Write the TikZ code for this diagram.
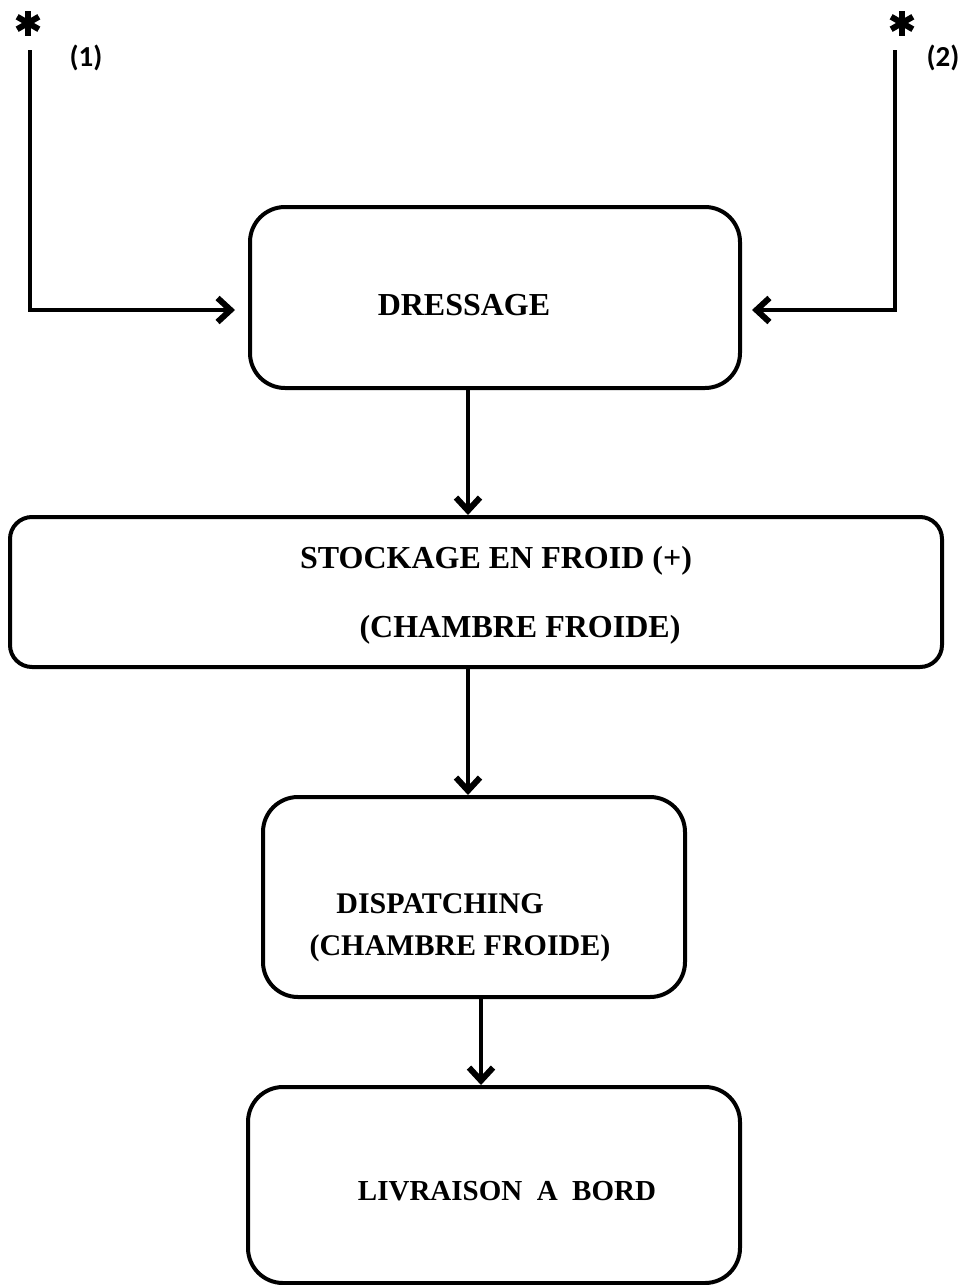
\documentclass[tikz,border=0pt]{standalone}
\usepackage{fontspec}
\setmainfont{Liberation Serif}
\newfontfamily\labelfont{Carlito}
\usetikzlibrary{arrows.meta,calc}
\begin{document}
\begin{tikzpicture}[x=1pt,y=-1pt,
  box/.style={draw,line width=4pt,inner sep=0pt,rounded corners=#1},
  box/.default=35pt,
  txt/.style={inner sep=0pt,anchor=base,font=\bfseries\fontsize{32}{38}\selectfont},
  flow/.style={line width=4pt,-{Straight Barb[length=13pt,width=24pt,line width=6pt]}},
  tag/.style={inner sep=0pt,anchor=base,font=\labelfont\bfseries\fontsize{29}{34}\selectfont},
  spoke/.style={line width=6pt}]
\useasboundingbox (0,0) rectangle (967,1285);

% process boxes
\node[box,minimum width=490pt,minimum height=181pt] (dress) at (495,297.5) {};
\node[box=22pt,minimum width=932pt,minimum height=150pt] (stock) at (476,592) {};
\node[box,minimum width=422pt,minimum height=200pt] (disp) at (474,897) {};
\node[box,minimum width=492pt,minimum height=196pt] (livr) at (494,1185) {};

% box texts
\node[txt] (tdress) at (464,315) {DRESSAGE};
\node[txt] (tstock1) at (496,568) {STOCKAGE EN FROID (+)};
\node[txt] (tstock2) at (520,637) {(CHAMBRE FROIDE)};
\node[txt,font=\bfseries\fontsize{30}{36}\selectfont] (tdisp1) at (440,913) {DISPATCHING};
\node[txt,font=\bfseries\fontsize{30}{36}\selectfont] (tdisp2) at (460,955) {(CHAMBRE FROIDE)};
\node[txt,font=\bfseries\fontsize{29}{34}\selectfont] (tlivr) at (507,1200) {LIVRAISON\hspace{0.5em}A\hspace{0.5em}BORD};

% input markers: heavy asterisks with their numbers
\coordinate (star1) at (28,23);
\coordinate (star2) at (902,23);
\foreach \c in {star1,star2}
  \foreach \a in {90,150,210}
    \draw[spoke] ($(\c)+(\a:12.5)$) -- ($(\c)+(\a+180:12.5)$);
\node[tag] (lab1) at (86,66) {(1)};
\node[tag] (lab2) at (943,66) {(2)};
\coordinate (s1) at (30,50);
\coordinate (s2) at (895,50);
\coordinate (in1) at (235,310);
\coordinate (in2) at (752,310);
\draw[flow] (s1) |- (in1);
\draw[flow] (s2) |- (in2);

% flow between the stages
\draw[flow] ([xshift=-27pt]dress.south) -- ([xshift=-27pt]dress.south |- stock.north);
\draw[flow] ([xshift=-8pt]stock.south) -- ([xshift=-8pt]stock.south |- disp.north);
\draw[flow] ([xshift=7pt]disp.south) -- ([xshift=7pt]disp.south |- livr.north);
\end{tikzpicture}
\end{document}
